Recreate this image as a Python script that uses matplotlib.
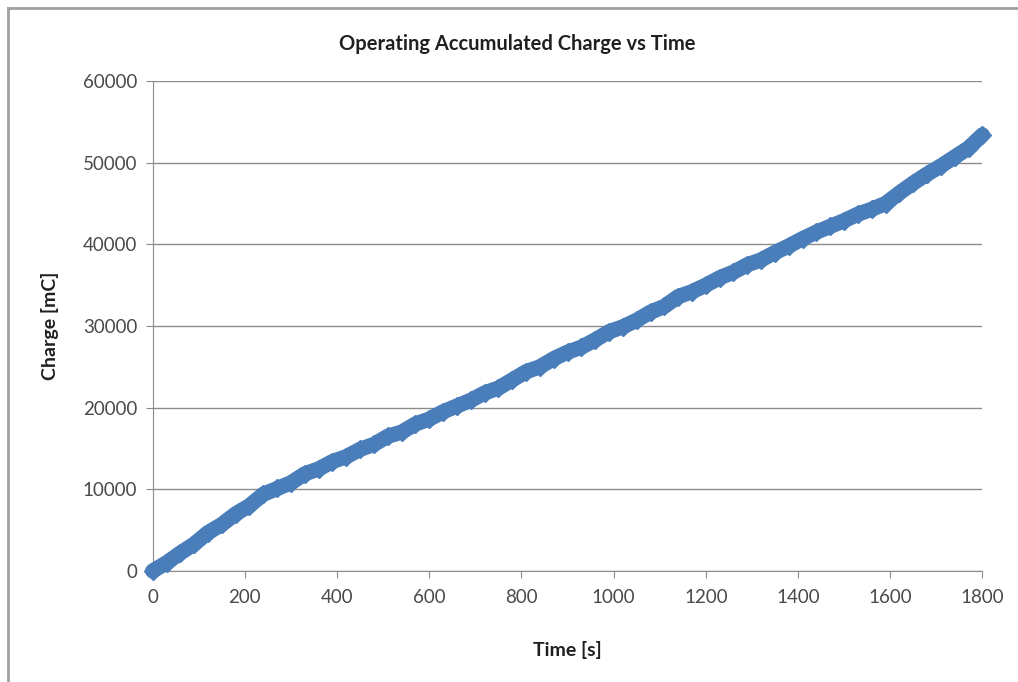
import numpy as np
import matplotlib.pyplot as plt
from matplotlib.lines import Line2D

plt.rcParams['font.family'] = ['Lato', 'DejaVu Sans']

# accumulated charge log, sampled every 30 s
time_s = [0, 30, 60, 90, 120, 150, 180, 210, 240, 270,
          300, 330, 360, 390, 420, 450, 480, 510, 540, 570,
          600, 630, 660, 690, 720, 750, 780, 810, 840, 870,
          900, 930, 960, 990, 1020, 1050, 1080, 1110, 1140, 1170,
          1200, 1230, 1260, 1290, 1320, 1350, 1380, 1410, 1440, 1470,
          1500, 1530, 1560, 1590, 1620, 1650, 1680, 1710, 1740, 1770,
          1800]
charge_mC = [0, 1000, 2200, 3300, 4700, 5700, 7000, 8000, 9400, 10100,
             10800, 11900, 12500, 13400, 14000, 14900, 15500, 16500, 17000, 18000,
             18600, 19500, 20200, 20900, 21800, 22400, 23400, 24400, 25000, 26000,
             26800, 27400, 28300, 29300, 29900, 30700, 31700, 32400, 33600, 34200,
             35000, 35900, 36600, 37500, 38100, 39000, 39800, 40700, 41500, 42200,
             42900, 43700, 44300, 45000, 46300, 47500, 48600, 49600, 50700, 51800,
             53400]

x_ticks = [0, 200, 400, 600, 800, 1000, 1200, 1400, 1600, 1800]
y_ticks = [0, 10000, 20000, 30000, 40000, 50000, 60000]

fig = plt.figure(figsize=(10.18, 6.82), dpi=100)
ax = fig.add_axes([0.150, 0.1628, 0.815, 0.7184])

ax.plot(time_s, charge_mC, color='#4a7ebb', lw=11, marker='D', ms=9,
        solid_joinstyle='round', solid_capstyle='round', zorder=3, clip_on=False)

ax.set_xlim(0, 1800)
ax.set_ylim(0, 60000)
ax.set_xticks(x_ticks)
ax.set_yticks(y_ticks)
ax.grid(axis='y', color='#8c8c8c', lw=1)
ax.set_axisbelow(True)
for side in ['top', 'right']:
    ax.spines[side].set_visible(False)
for side in ['left', 'bottom']:
    ax.spines[side].set_color('#8c8c8c')
ax.tick_params(axis='both', colors='#8c8c8c', length=5, labelsize=13.5,
               labelcolor='#4a4a4a')
ax.tick_params(axis='x', pad=8)
ax.tick_params(axis='y', pad=6)

fig.text(0.508, 0.936, 'Operating Accumulated Charge vs Time', fontsize=14.5,
         fontweight='bold', color='#202020', ha='center', va='center')
ax.set_xlabel('Time [s]', fontsize=14, fontweight='bold', labelpad=25, color='#202020')
ax.set_ylabel('Charge [mC]', fontsize=14, fontweight='bold', labelpad=17, color='#202020')

# chart frame edges
fig.add_artist(Line2D([0.008, 0.008], [0.0, 0.988], color='#a0a0a0', lw=2))
fig.add_artist(Line2D([0.008, 1.0], [0.988, 0.988], color='#a0a0a0', lw=2))

fig.savefig('out.png', dpi=100, facecolor='white')
